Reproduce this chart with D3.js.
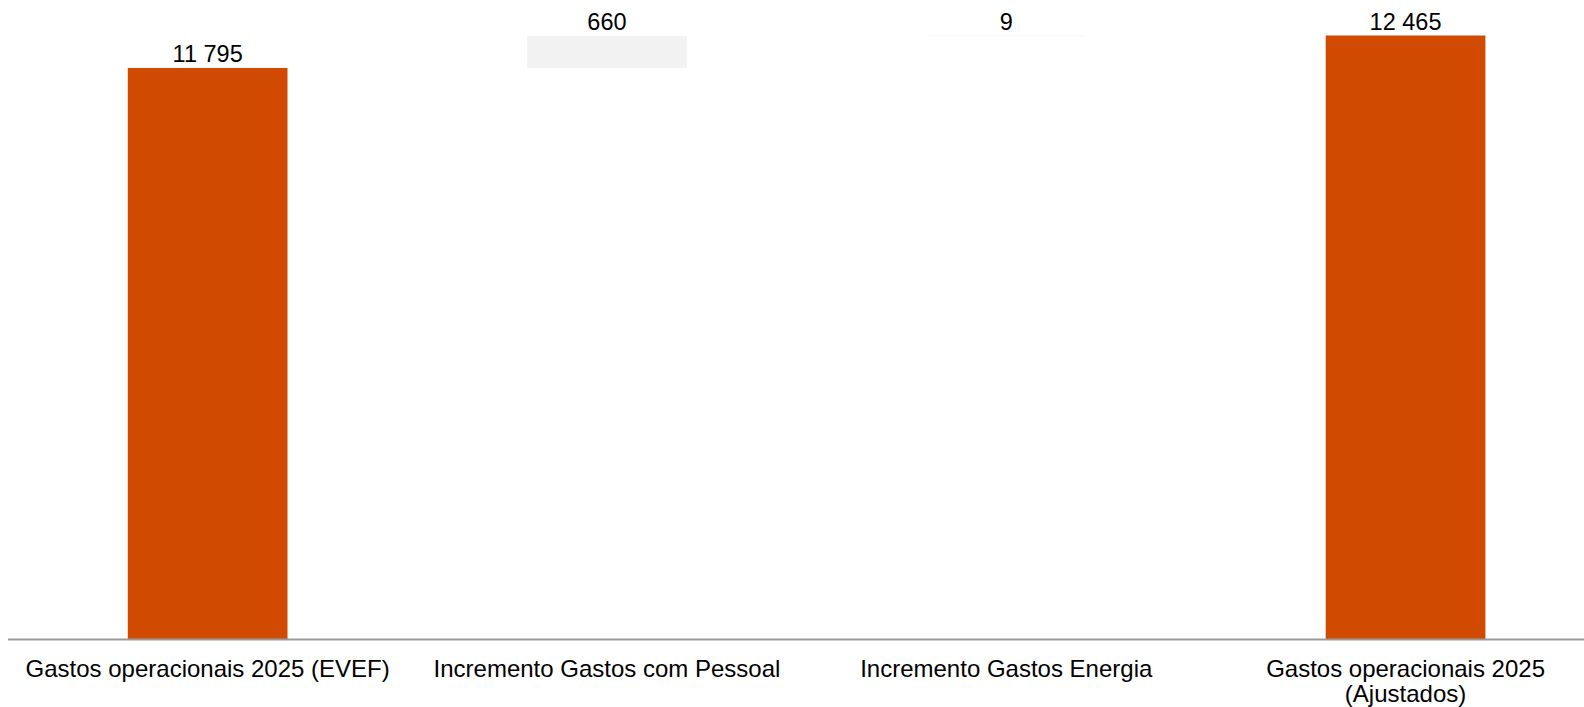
<!DOCTYPE html>
<html>
<head>
<meta charset="utf-8">
<script src="https://cdn.jsdelivr.net/npm/d3@7"></script>
<style>
  html, body { margin: 0; padding: 0; background: #fff; }
  svg { display: block; }
  text { font-family: "Liberation Sans", Arial, sans-serif; fill: #000; }
</style>
</head>
<body>
<svg id="chart" width="1584" height="707"></svg>
<script>
// Operating expenses bridge (waterfall)
const categories = [
  "Gastos operacionais 2025 (EVEF)",
  "Incremento Gastos com Pessoal",
  "Incremento Gastos Energia",
  "Gastos operacionais 2025 (Ajustados)"
];
const values = [11795, 660, 9, 12465];
const kinds = ["total", "delta", "delta", "total"];
const valueLabels = ["11 795", "660", "9", "12 465"];

const W = 1584, H = 707;
const svg = d3.select("#chart");

// running totals for the floating increments
let run = 0;
const bars = categories.map((c, i) => {
  let y0, y1;
  if (kinds[i] === "total") { y0 = 0; y1 = values[i]; run = values[i]; }
  else { y0 = run; y1 = run + values[i]; run = y1; }
  return { cat: c, kind: kinds[i], y0, y1, label: valueLabels[i] };
});

const x = d3.scaleBand()
  .domain(categories)
  .range([8, 1605.2])
  .paddingInner(0.6)
  .paddingOuter(0.3);

const y = d3.scaleLinear()
  .domain([0, 12465])
  .range([639.5, 35.5]);

const color = { total: "#D04A02", delta: "#F2F2F2" };

svg.append("g").selectAll("rect")
  .data(bars)
  .join("rect")
  .attr("x", d => x(d.cat))
  .attr("width", x.bandwidth())
  .attr("y", d => y(d.y1))
  .attr("height", d => Math.max(y(d.y0) - y(d.y1), 0.6))
  .attr("fill", d => color[d.kind]);

// value labels above each bar
svg.append("g").selectAll("text")
  .data(bars)
  .join("text")
  .attr("x", d => x(d.cat) + x.bandwidth() / 2)
  .attr("y", d => y(d.y1) - 6)
  .attr("text-anchor", "middle")
  .style("font-size", "23.5px")
  .text(d => d.label);

// baseline
const axis = d3.axisBottom(x).tickSize(0).tickPadding(0);
const gAxis = svg.append("g")
  .attr("transform", `translate(0,${y(0)})`)
  .call(axis);
gAxis.select(".domain").remove();
gAxis.append("line")
  .attr("x1", 8).attr("x2", W)
  .attr("y1", 0).attr("y2", 0)
  .attr("stroke", "#9a9a9a")
  .attr("stroke-width", 2);

// category labels, wrapped to the band step
gAxis.selectAll(".tick text")
  .attr("font-family", null)
  .attr("font-size", null)
  .style("font-size", "24px")
  .attr("fill", "#000")
  .attr("y", 37.5)
  .attr("dy", 0)
  .each(function() {
    const t = d3.select(this);
    const words = t.text().split(/\s+/);
    const maxW = 390;
    t.text(null);
    let line = [];
    let lineNo = 0;
    let tspan = t.append("tspan").attr("x", 0).attr("y", 37.5);
    words.forEach(w => {
      line.push(w);
      tspan.text(line.join(" "));
      if (tspan.node().getComputedTextLength() > maxW && line.length > 1) {
        line.pop();
        tspan.text(line.join(" "));
        line = [w];
        lineNo++;
        tspan = t.append("tspan").attr("x", 0).attr("y", 37.5 + lineNo * 24.5).text(w);
      }
    });
  });
</script>
</body>
</html>
